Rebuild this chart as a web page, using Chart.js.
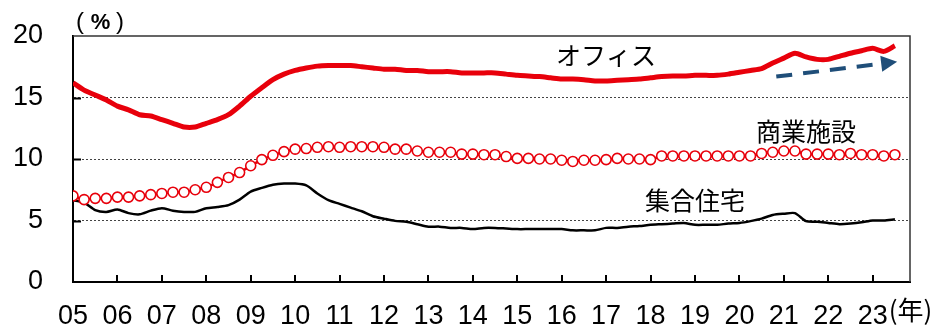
<!DOCTYPE html>
<html lang="ja">
<head>
<meta charset="utf-8">
<title>用途別 空室率等の推移</title>
<script src="https://cdn.jsdelivr.net/npm/chart.js@4.4.1/dist/chart.umd.min.js"></script>
<style>
  html, body { margin: 0; padding: 0; background: #ffffff; }
  #wrap { width: 941px; height: 327px; }
</style>
</head>
<body>
<div id="wrap"><canvas id="c" width="941" height="327"></canvas></div>
<script>
// Year tick labels (x = 0 is the start of 2005, one unit per year)
const yearLabels = ['05','06','07','08','09','10','11','12','13','14','15','16','17','18','19','20','21','22','23'];

// Quarterly series, 2005 Q1 onward (%)
const office = [
  16.2, 15.6, 15.2, 14.8, 14.3, 14.0, 13.6, 13.5, 13.2, 12.9,
  12.6, 12.6, 12.9, 13.2, 13.6, 14.3, 15.1, 15.8, 16.45, 16.9,
  17.2, 17.4, 17.55, 17.6, 17.6, 17.6, 17.5, 17.4, 17.3, 17.3,
  17.2, 17.2, 17.1, 17.1, 17.1, 17.0, 17.0, 17.0, 17.0, 16.9,
  16.8, 16.75, 16.7, 16.6, 16.5, 16.5, 16.45, 16.35, 16.35, 16.4,
  16.45, 16.5, 16.6, 16.7, 16.75, 16.75, 16.8, 16.8, 16.8, 16.9,
  17.05, 17.2, 17.35, 17.8, 18.2, 18.6, 18.3, 18.1, 18.1, 18.35,
  18.6, 18.8, 19.0, 18.75, 19.2
];
const retail = [
  7.0, 6.7, 6.8, 6.8, 6.9, 6.9, 7.0, 7.1, 7.2, 7.3,
  7.3, 7.5, 7.7, 8.1, 8.5, 8.9, 9.45, 9.95, 10.3, 10.6,
  10.8, 10.85, 10.95, 11.0, 10.95, 11.0, 11.0, 11.0, 10.95, 10.8,
  10.8, 10.65, 10.55, 10.55, 10.55, 10.4, 10.4, 10.35, 10.35, 10.2,
  10.05, 10.05, 10.0, 10.0, 9.9, 9.8, 9.9, 9.9, 9.95, 10.05,
  10.0, 10.0, 9.95, 10.25, 10.25, 10.25, 10.25, 10.25, 10.25, 10.25,
  10.25, 10.25, 10.45, 10.55, 10.65, 10.65, 10.4, 10.4, 10.4, 10.35,
  10.45, 10.35, 10.35, 10.25, 10.35
];
const apartment = [
  6.65, 6.45, 5.85, 5.7, 5.9, 5.6, 5.5, 5.8, 6.0, 5.8,
  5.7, 5.7, 6.0, 6.1, 6.25, 6.7, 7.35, 7.65, 7.9, 8.0,
  8.0, 7.85, 7.2, 6.65, 6.35, 6.05, 5.75, 5.35, 5.15, 4.97,
  4.9, 4.7, 4.5, 4.5, 4.4, 4.4, 4.3, 4.4, 4.4, 4.35,
  4.3, 4.3, 4.3, 4.3, 4.3, 4.2, 4.2, 4.2, 4.4, 4.4,
  4.5, 4.55, 4.65, 4.7, 4.75, 4.8, 4.65, 4.65, 4.65, 4.75,
  4.8, 4.95, 5.15, 5.45, 5.55, 5.6, 4.95, 4.9, 4.8, 4.7,
  4.75, 4.85, 5.0, 5.0, 5.1
];

// Series names drawn beside the lines, anchored in data units
const seriesNames = [
  { text: 'オフィス', x: 12.0, y: 18.4 },
  { text: '商業施設', x: 16.5, y: 12.2 },
  { text: '集合住宅', x: 14.0, y: 6.6 }
];
// Upward trend arrow for the office series (data units)
const trendArrow = { x0: 15.83, y0: 16.7, x1: 18.55, y1: 17.9 };

const X_MAX = 18.84;
const toPoints = arr => arr.map((v, i) => ({ x: i / 4, y: v }));

const RED = '#E8000B';
const LATIN = "'Liberation Sans', Arial, sans-serif";
const TICK_FONT = { family: LATIN, size: 27 };
const JP_FONT = "'Noto Sans CJK JP', 'Noto Sans', sans-serif";

// keep the plot rectangle fixed: no extra room reserved for end labels
const noScalePadding = scale => {
  scale.paddingTop = 0;
  scale.paddingBottom = 0;
  scale.paddingLeft = 0;
  scale.paddingRight = 0;
};

const decorations = {
  id: 'decorations',
  afterDatasetsDraw(chart) {
    const { ctx, chartArea: a } = chart;
    const xs = chart.scales.x, ys = chart.scales.y;
    ctx.save();

    // frame on the top and right sides
    ctx.strokeStyle = '#333333';
    ctx.lineWidth = 1.5;
    ctx.beginPath();
    ctx.moveTo(a.left, a.top);
    ctx.lineTo(a.right, a.top);
    ctx.lineTo(a.right, a.bottom);
    ctx.stroke();

    // inward tick marks
    ctx.strokeStyle = '#000000';
    ctx.lineWidth = 2;
    ctx.beginPath();
    xs.ticks.forEach(t => {
      if (t.value === 0) return;
      const px = Math.round(xs.getPixelForValue(t.value));
      ctx.moveTo(px, a.bottom);
      ctx.lineTo(px, a.bottom - 7);
    });
    ys.ticks.forEach(t => {
      if (t.value === 0 || t.value === 20) return;
      const py = Math.round(ys.getPixelForValue(t.value)) + 0.5;
      ctx.moveTo(a.left, py);
      ctx.lineTo(a.left + 8, py);
    });
    ctx.stroke();

    // dashed trend arrow
    const p0x = xs.getPixelForValue(trendArrow.x0), p0y = ys.getPixelForValue(trendArrow.y0);
    const p1x = xs.getPixelForValue(trendArrow.x1), p1y = ys.getPixelForValue(trendArrow.y1);
    const ang = Math.atan2(p1y - p0y, p1x - p0x);
    const headLen = 16, headHalf = 8;
    const bx = p1x - headLen * Math.cos(ang), by = p1y - headLen * Math.sin(ang);
    ctx.strokeStyle = '#1F4E79';
    ctx.fillStyle = '#1F4E79';
    ctx.lineWidth = 4;
    ctx.setLineDash([16, 11]);
    ctx.beginPath();
    ctx.moveTo(p0x, p0y);
    ctx.lineTo(bx, by);
    ctx.stroke();
    ctx.setLineDash([]);
    ctx.beginPath();
    ctx.moveTo(p1x, p1y);
    ctx.lineTo(bx + headHalf * Math.sin(ang), by - headHalf * Math.cos(ang));
    ctx.lineTo(bx - headHalf * Math.sin(ang), by + headHalf * Math.cos(ang));
    ctx.closePath();
    ctx.fill();

    // series names
    ctx.fillStyle = '#000000';
    ctx.font = '25px ' + JP_FONT;
    ctx.textAlign = 'center';
    ctx.textBaseline = 'middle';
    seriesNames.forEach(n => {
      ctx.fillText(n.text, xs.getPixelForValue(n.x), ys.getPixelForValue(n.y));
    });

    // unit label of the value axis: (%)
    ctx.font = '24px ' + LATIN;
    ctx.fillText('(', a.left + 7, 22);
    ctx.fillText(')', a.left + 47, 22);
    ctx.font = 'bold 22px ' + LATIN;
    ctx.fillText('%', a.left + 27.5, 23);

    // unit label of the year axis
    ctx.font = '26px ' + JP_FONT;
    ctx.textAlign = 'left';
    ctx.fillText('(年)', xs.getPixelForValue(18) + 16, 310);

    ctx.restore();
  }
};

new Chart(document.getElementById('c'), {
  type: 'line',
  data: {
    datasets: [
      {
        label: 'オフィス',
        data: toPoints(office),
        borderColor: RED,
        borderWidth: 5,
        pointRadius: 0,
        tension: 0.25
      },
      {
        label: '商業施設',
        data: toPoints(retail),
        borderColor: RED,
        borderWidth: 2.5,
        pointRadius: 5,
        pointBorderWidth: 1.6,
        pointBorderColor: RED,
        pointBackgroundColor: '#ffffff',
        tension: 0.2
      },
      {
        label: '集合住宅',
        data: toPoints(apartment),
        borderColor: '#000000',
        borderWidth: 2.5,
        pointRadius: 0,
        tension: 0.25
      }
    ]
  },
  options: {
    responsive: false,
    animation: false,
    devicePixelRatio: 1,
    layout: { padding: { top: 36, right: 31, left: 0, bottom: 0 } },
    plugins: { legend: { display: false }, tooltip: { enabled: false } },
    scales: {
      x: {
        type: 'linear',
        min: 0,
        max: X_MAX,
        afterBuildTicks: scale => {
          scale.ticks = yearLabels.map((_, i) => ({ value: i }));
        },
        afterFit: scale => { scale.height = 45; noScalePadding(scale); },
        ticks: {
          color: '#000000',
          font: TICK_FONT,
          padding: 18,
          maxRotation: 0,
          autoSkip: false,
          callback: v => yearLabels[v]
        },
        grid: { display: false, drawTicks: false },
        border: { display: true, color: '#000000', width: 2 }
      },
      y: {
        min: 0,
        max: 20,
        afterFit: scale => { scale.width = 73; noScalePadding(scale); },
        ticks: {
          stepSize: 5,
          color: '#000000',
          font: TICK_FONT,
          padding: 30
        },
        grid: {
          drawTicks: false,
          lineWidth: 1,
          color: ctx => (ctx.tick && (ctx.tick.value === 0 || ctx.tick.value === 20)) ? 'rgba(0,0,0,0)' : '#444444'
        },
        border: { display: true, color: '#000000', width: 2, dash: [2, 2] }
      }
    }
  },
  plugins: [decorations]
});
</script>
</body>
</html>
